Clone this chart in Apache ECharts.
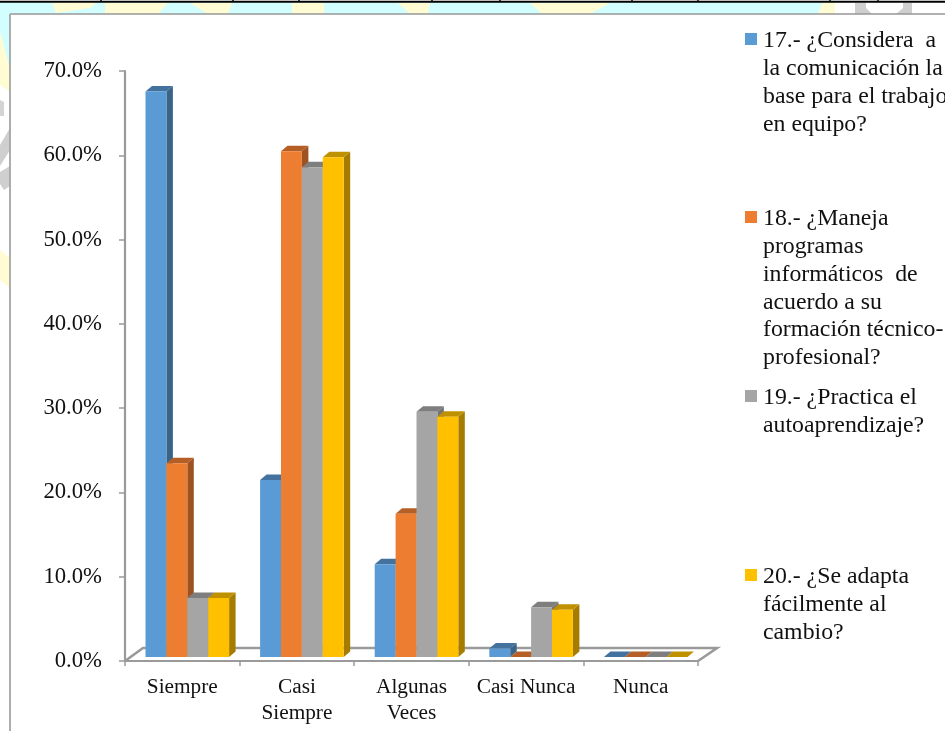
<!DOCTYPE html>
<html>
<head>
<meta charset="utf-8">
<style>html,body{margin:0;padding:0;background:#fff;overflow:hidden}#chart{width:945px;height:731px}</style>
<script src="https://cdn.jsdelivr.net/npm/echarts@6/dist/echarts.min.js"></script>
</head>
<body>
<div id="chart"></div>
<script>
// Survey answers, percent of respondents per frequency category
const categories = ['Siempre', 'Casi\nSiempre', 'Algunas\nVeces', 'Casi Nunca', 'Nunca'];
const q17 = [67.1, 21.0, 11.0, 1.0, 0];
const q18 = [23.0, 60.0, 17.0, 0, 0];
const q19 = [7.0, 58.1, 29.1, 5.9, 0];
const q20 = [7.0, 59.3, 28.5, 5.6, 0];
const yTicks = { min: 0, max: 70, interval: 10 };

const questions = [
  '17.- ¿Considera  a\nla comunicación la\nbase para el trabajo\nen equipo?',
  '18.- ¿Maneja\nprogramas\ninformáticos  de\nacuerdo a su\nformación técnico-\nprofesional?',
  '19.- ¿Practica el\nautoaprendizaje?',
  '20.- ¿Se adapta\nfácilmente al\ncambio?'
];
const seriesValues = [q17, q18, q19, q20];

const frontColors = ['#5B9BD5', '#ED7D31', '#A5A5A5', '#FFC000'];
const sideColors = ['#3A6487', '#9E5222', '#747474', '#A67C00'];
const topColors = ['#44729E', '#B55F27', '#7E7E7E', '#BF9000'];

const FONT = '"Liberation Serif", "Times New Roman", serif';
const AXIS_GRAY = '#9A9A9A';

// Extruded column: front face, right side and top, sitting just behind the axis line
const BAR_W = 20.9, DEPTH_X = 6.5, DEPTH_Y = 5.5, LIFT = 4, GROUP_SHIFT = 5;
function columnRenderer(s) {
  return function (params, api) {
    const p = api.coord([api.value(0), api.value(1)]);
    const base = api.coord([api.value(0), 0]);
    const x0 = p[0] + GROUP_SHIFT + (s - 2) * BAR_W;
    const x1 = x0 + BAR_W;
    const yt = p[1] - LIFT, yb = base[1] - LIFT;
    const poly = (points, fill) => ({ type: 'polygon', shape: { points }, style: { fill } });
    return {
      type: 'group',
      children: [
        poly([[x1, yt], [x1 + DEPTH_X, yt - DEPTH_Y], [x1 + DEPTH_X, yb - DEPTH_Y], [x1, yb]], sideColors[s]),
        poly([[x0, yt], [x0 + DEPTH_X, yt - DEPTH_Y], [x1 + DEPTH_X, yt - DEPTH_Y], [x1, yt]], topColors[s]),
        { type: 'rect', shape: { x: x0, y: yt, width: BAR_W, height: yb - yt }, style: { fill: frontColors[s] } }
      ]
    };
  };
}

// Back and side edges of the chart floor
function floorRenderer(params, api) {
  const a = api.coord([0, 0]), b = api.coord([categories.length - 1, 0]);
  const half = api.size([1, 0])[0] / 2;
  const left = a[0] - half, right = b[0] + half, y = a[1];
  return {
    type: 'polyline',
    shape: { points: [[left, y], [left + 18, y - 13], [right + 19, y - 13], [right, y]] },
    style: { fill: 'none', stroke: AXIS_GRAY, lineWidth: 2.6 }
  };
}

// Legend entries: swatch beside the first text line, evenly spaced down the right side
const LEGEND_TOPS = [27, 205, 384, 563];
const legendGraphics = [];
questions.forEach((q, i) => {
  legendGraphics.push({ type: 'rect', x: 745, y: LEGEND_TOPS[i] + 6, shape: { width: 12, height: 12 }, style: { fill: frontColors[i] } });
  legendGraphics.push({
    type: 'text', x: 763, y: LEGEND_TOPS[i],
    style: { text: q, font: '23.8px ' + FONT, lineHeight: 27.8, fill: '#111', textAlign: 'left', textVerticalAlign: 'top' }
  });
});

// Page surround: tinted strip, rule with column marks and the chart frame
const tint = (points, fill) => ({ type: 'polygon', shape: { points }, style: { fill }, silent: true });
const seg = (x1, y1, x2, y2, stroke, w) => ({ type: 'line', shape: { x1, y1, x2, y2 }, style: { stroke, lineWidth: w }, silent: true });
const surround = [
  tint([[0, 2], [835, 2], [835, 14], [10, 14], [10, 70], [0, 32]], '#D2FEFF'),
  tint([[52, 3], [97, 2], [90, 8], [56, 13]], '#FFFBD2'),
  tint([[105, 3], [168, 3], [158, 14], [105, 14]], '#FFFBD2'),
  tint([[190, 3], [232, 3], [228, 14], [208, 14]], '#FFFBD2'),
  tint([[292, 3], [324, 3], [324, 14], [292, 14]], '#FFFBD2'),
  tint([[398, 3], [430, 3], [428, 14], [410, 14]], '#FFFBD2'),
  tint([[530, 3], [610, 3], [590, 14], [542, 14]], '#FFFBD2'),
  tint([[822, 3], [835, 3], [835, 14], [818, 14]], '#FFFBD2'),
  tint([[0, 32], [10, 70], [10, 92], [0, 85]], '#FFFBD2'),
  tint([[0, 250], [10, 258], [10, 288], [0, 280]], '#FFFBD2'),
  tint([[0, 100], [4, 102], [4, 116], [0, 116]], '#D4D4D4'),
  tint([[0, 145], [10, 128], [10, 150], [0, 166]], '#CFCFCF'),
  tint([[0, 172], [10, 166], [10, 186], [4, 190], [0, 184]], '#CFCFCF'),
  tint([[855, 3], [866, 3], [866, 8], [872, 14], [855, 14]], '#CFCFCF'),
  tint([[903, 3], [912, 3], [912, 14], [896, 14], [903, 8]], '#CFCFCF'),
  seg(0, 1.8, 945, 1.8, '#000', 2),
  ...[101, 233, 299, 432, 500, 632, 698, 830, 878].map(x => seg(x, 0, x, 2, '#000', 1.5)),
  seg(10, 14, 945, 14, '#979797', 1.6),
  seg(10, 14, 10, 731, '#A5A5A5', 1.8)
];

const chart = echarts.init(document.getElementById('chart'), null, { renderer: 'canvas' });
chart.setOption({
  animation: false,
  backgroundColor: '#fff',
  textStyle: { fontFamily: FONT },
  grid: { left: 125, width: 573, top: 71, height: 590, containLabel: false },
  xAxis: {
    type: 'category',
    data: categories,
    axisLine: { lineStyle: { color: AXIS_GRAY, width: 2.2 } },
    axisTick: { show: true, length: 5, alignWithLabel: false, lineStyle: { color: AXIS_GRAY, width: 1.5 } },
    axisLabel: { interval: 0, fontFamily: FONT, fontSize: 21.3, lineHeight: 26, color: '#111', margin: 13 },
    splitLine: { show: false }
  },
  yAxis: {
    type: 'value',
    min: yTicks.min, max: yTicks.max, interval: yTicks.interval,
    axisLine: { show: true, lineStyle: { color: AXIS_GRAY, width: 2.2 } },
    axisTick: { show: true, length: 6, lineStyle: { color: AXIS_GRAY, width: 1.5 } },
    axisLabel: { formatter: v => v.toFixed(1) + '%', fontFamily: FONT, fontSize: 22.7, color: '#111', margin: 23, padding: [6, 0, 0, 0] },
    splitLine: { show: false }
  },
  graphic: { elements: surround.concat(legendGraphics) },
  series: [
    { type: 'custom', name: 'floor', silent: true, z: 1, data: [[0, 0]], renderItem: floorRenderer, clip: false },
    ...seriesValues.map((vals, s) => ({
      type: 'custom',
      name: questions[s].replace(/\n/g, ' '),
      z: 2 + s,
      clip: false,
      itemStyle: { color: frontColors[s] },
      encode: { x: 0, y: 1 },
      data: vals.map((v, i) => [i, v]),
      renderItem: columnRenderer(s)
    }))
  ]
});
</script>
</body>
</html>
